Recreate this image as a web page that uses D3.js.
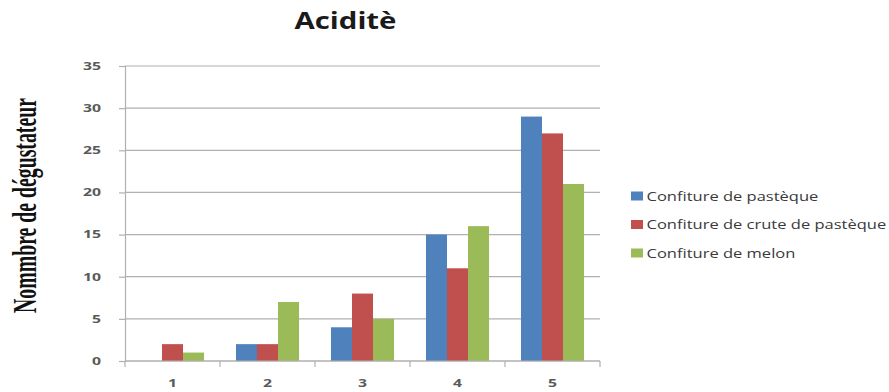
<!DOCTYPE html>
<html>
<head>
<meta charset="utf-8">
<script src="https://cdn.jsdelivr.net/npm/d3@7"></script>
<style>
  html, body { margin: 0; padding: 0; background: #fff; }
  svg { display: block; }
</style>
</head>
<body>
<svg id="chart" width="889" height="392"></svg>
<script>
// Acidity scores: number of tasters per score, for three jams
const categories = ["1", "2", "3", "4", "5"];
const seriesNames = ["Confiture de pastèque", "Confiture de crute de pastèque", "Confiture de melon"];
const pasteque = [0, 2, 4, 15, 29];
const cruteDePasteque = [2, 2, 8, 11, 27];
const melon = [1, 7, 5, 16, 21];
const yTicks = [0, 5, 10, 15, 20, 25, 30, 35];
const colors = ["#4F81BD", "#C0504D", "#9BBB59"];

const seriesValues = [pasteque, cruteDePasteque, melon];

const svg = d3.select("#chart");
const margin = { left: 125, right: 289, top: 66, bottom: 31 };
const W = 889, H = 392;
const x0 = margin.left, x1 = W - margin.right;
const yTop = margin.top, yBot = H - margin.bottom;

// Text in this chart is drawn a little wide; stretch each label horizontally
function widen(sel, factor) {
  sel.each(function () {
    const len = this.getComputedTextLength();
    d3.select(this).attr("textLength", len * factor).attr("lengthAdjust", "spacingAndGlyphs");
  });
}

const x = d3.scaleBand().domain(categories).range([x0, x1]).paddingInner(0).paddingOuter(0);
const xs = d3.scaleBand().domain(d3.range(seriesNames.length))
  .range([0, x.bandwidth()]).paddingInner(0).paddingOuter(0.76);
const y = d3.scaleLinear().domain([0, 35]).range([yBot, yTop]);

// Gridlines
svg.append("g")
  .selectAll("line")
  .data(yTicks)
  .join("line")
  .attr("x1", x0).attr("x2", x1)
  .attr("y1", d => y(d)).attr("y2", d => y(d))
  .attr("stroke", "#b0b0b0").attr("stroke-width", 1.2);

// Bars
const groups = svg.append("g")
  .selectAll("g")
  .data(categories)
  .join("g")
  .attr("transform", d => `translate(${x(d)},0)`);

groups.selectAll("rect")
  .data((c, i) => seriesValues.map((vals, s) => ({ s, v: vals[i] })))
  .join("rect")
  .attr("x", d => xs(d.s))
  .attr("width", xs.bandwidth())
  .attr("y", d => y(d.v))
  .attr("height", d => y(0) - y(d.v))
  .attr("fill", d => colors[d.s]);

// Y axis
const yAxis = d3.axisLeft(y).tickValues(yTicks).tickSize(6).tickPadding(18);
const gy = svg.append("g").attr("transform", `translate(${x0},0)`).call(yAxis);
gy.select(".domain").attr("stroke", "#b0b0b0").attr("stroke-width", 1.2);
gy.selectAll(".tick line").attr("stroke", "#b0b0b0").attr("stroke-width", 1.2);
gy.selectAll(".tick text")
  .attr("font-family", "'Open Sans', sans-serif")
  .attr("font-size", 10.5).attr("font-weight", "bold").attr("fill", "#5a5a5a")
  .call(widen, 1.5);

// X axis with boundary ticks between categories
const gx = svg.append("g").attr("transform", `translate(0,${yBot})`);
gx.append("line").attr("x1", x0).attr("x2", x1).attr("y1", 0).attr("y2", 0)
  .attr("stroke", "#b0b0b0").attr("stroke-width", 1.2);
const bounds = categories.map(c => x(c)).concat([x1]);
gx.selectAll("line.tk").data(bounds).join("line").attr("class", "tk")
  .attr("x1", d => d).attr("x2", d => d).attr("y1", 0).attr("y2", 6)
  .attr("stroke", "#b0b0b0").attr("stroke-width", 1.2);
gx.selectAll("text").data(categories).join("text")
  .attr("x", d => x(d) + x.bandwidth() / 2)
  .attr("y", 26)
  .attr("text-anchor", "middle")
  .attr("font-family", "'Open Sans', sans-serif")
  .attr("font-size", 10.5).attr("font-weight", "bold").attr("fill", "#5a5a5a")
  .text(d => d)
  .call(widen, 1.5);

// Title
svg.append("text")
  .attr("x", 345.5).attr("y", 29)
  .attr("text-anchor", "middle")
  .attr("font-family", "'Open Sans', sans-serif")
  .attr("font-size", 23.5).attr("font-weight", "bold").attr("fill", "#1a1a1a")
  .text("Aciditè")
  .call(widen, 1.25);

// Y axis title: tall, condensed serif, squeezed to a fixed length
const yTitle = svg.append("text")
  .attr("text-anchor", "middle")
  .attr("font-family", "'Liberation Serif', serif")
  .attr("font-size", 34).attr("font-weight", "bold").attr("fill", "#111")
  .text("Nommbre de dégustateur");
const naturalLen = yTitle.node().getComputedTextLength();
yTitle.attr("transform", `translate(36,205.5) rotate(-90) scale(${215 / naturalLen},1)`);

// Legend
const legend = svg.append("g").attr("transform", "translate(631,196)");
const items = legend.selectAll("g").data(seriesNames).join("g")
  .attr("transform", (d, i) => `translate(0,${i * 28.5})`);
items.append("rect").attr("x", 0).attr("y", -4.5).attr("width", 12).attr("height", 9)
  .attr("fill", (d, i) => colors[i]);
items.append("text").attr("x", 15.5).attr("y", 4.5)
  .attr("font-family", "'Open Sans', sans-serif")
  .attr("font-size", 12.5).attr("fill", "#3a3a3a")
  .text(d => d)
  .call(widen, 1.32);
</script>
</body>
</html>
